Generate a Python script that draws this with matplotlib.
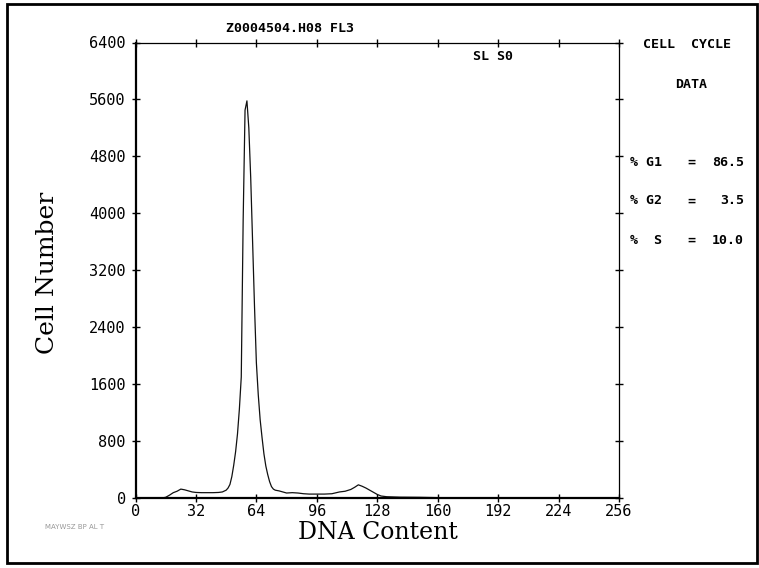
import matplotlib
matplotlib.use('Agg')
import matplotlib.pyplot as plt
from matplotlib.patches import Rectangle

# DNA histogram (channel, cell count)
channels = [0, 14, 16, 18, 20, 22, 24, 26, 28, 30, 32, 35, 38, 41, 44, 46, 48, 49,
            50, 51, 52, 53, 54, 55, 56, 57, 58, 59, 60, 61, 62, 63, 64, 65, 66, 67,
            68, 69, 70, 71, 72, 73, 74, 76, 78, 80, 83, 86, 89, 92, 96, 100, 104,
            108, 111, 114, 116, 118, 120, 122, 124, 126, 128, 130, 133, 140, 150,
            160, 170, 256]
counts = [0, 0, 10, 40, 75, 95, 125, 115, 100, 85, 78, 75, 75, 75, 78, 85, 110, 140,
          190, 300, 460, 650, 900, 1250, 1700, 3900, 5450, 5580, 5200, 4500, 3600,
          2700, 1900, 1450, 1100, 850, 620, 450, 330, 230, 160, 125, 110, 100, 85,
          70, 75, 70, 60, 55, 55, 55, 60, 85, 95, 120, 150, 185, 165, 140, 110, 80,
          50, 28, 18, 12, 10, 5, 0, 0]

x_ticks = [0, 32, 64, 96, 128, 160, 192, 224, 256]
y_ticks = [0, 800, 1600, 2400, 3200, 4000, 4800, 5600, 6400]

file_title = 'Z0004504.H08 FL3'
gate_label = 'SL S0'
phase_names = ['% G1', '% G2', '%  S']
phase_values = ['86.5', '3.5', '10.0']

fig = plt.figure(figsize=(7.59, 5.68), dpi=100)
fig.patch.set_facecolor('white')

# outer frame of the printout
fig.patches.append(Rectangle((7 / 759, 1 - 563 / 568), 750 / 759, 559 / 568,
                             transform=fig.transFigure, fill=False,
                             edgecolor='black', lw=2))

ax = fig.add_axes([135.5 / 759, 1 - 498 / 568, 483.5 / 759, 455.5 / 568])
ax.plot(channels, counts, color='#111111', lw=0.9)

ax.set_xlim(0, 256)
ax.set_ylim(0, 6400)
ax.set_xticks(x_ticks)
ax.set_yticks(y_ticks)
ax.tick_params(direction='inout', length=6, width=1, top=True, right=True,
               labelsize=11, pad=1)
ax.tick_params(axis='y', pad=4)
for lab in ax.get_xticklabels() + ax.get_yticklabels():
    lab.set_family('DejaVu Sans Mono')

for side in ['left', 'bottom']:
    ax.spines[side].set_linewidth(1.6)
for side in ['top', 'right']:
    ax.spines[side].set_linewidth(0.9)

ax.set_xlabel('DNA Content', family='DejaVu Serif', fontsize=17)
ax.set_ylabel('Cell Number', family='DejaVu Serif', fontsize=18)
ax.xaxis.set_label_coords(0.5016, -0.075)
ax.yaxis.set_label_coords(-0.181, 0.495)
ax.xaxis.label.set_va('center')
ax.yaxis.label.set_va('center')

mono = dict(family='DejaVu Sans Mono', weight='bold', fontsize=9.5)
fig.text(290 / 759, 1 - 29 / 568, file_title, ha='center', va='center', **mono)
fig.text(493 / 759, 1 - 57 / 568, gate_label, ha='center', va='center', **mono)
fig.text(687 / 759, 1 - 44 / 568, 'CELL  CYCLE', ha='center', va='center', **mono)
fig.text(691 / 759, 1 - 84 / 568, 'DATA', ha='center', va='center', **mono)
for i, (name, val) in enumerate(zip(phase_names, phase_values)):
    yy = 1 - (162 + 39 * i) / 568
    fig.text(630 / 759, yy, name, ha='left', va='center', **mono)
    fig.text(687 / 759, yy, '=', ha='left', va='center', **mono)
    fig.text(744 / 759, yy, val, ha='right', va='center', **mono)

fig.text(45 / 759, 1 - 527 / 568, 'MAYWSZ BP AL T', fontsize=5, color='#999999',
         ha='left', va='center')

fig.savefig('out.png', dpi=100)
